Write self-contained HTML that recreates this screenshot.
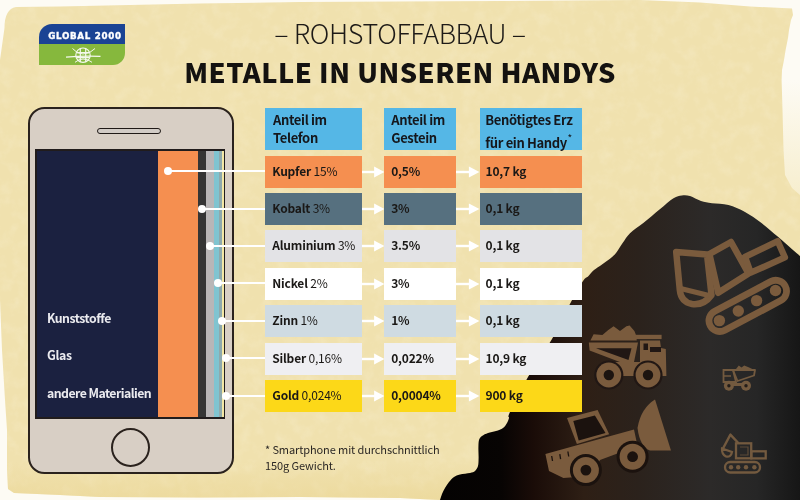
<!DOCTYPE html>
<html><head><meta charset="utf-8">
<style>
*{margin:0;padding:0;box-sizing:border-box}
html,body{width:800px;height:500px;overflow:hidden;background:#fdfbf4}
body{position:relative;font-family:"Noto Sans CJK JP","Liberation Sans",sans-serif;color:#1d1a17}
.abs{position:absolute}
#bg{position:absolute;left:0;top:0}
.t1{position:absolute;left:0;width:800px;text-align:center;white-space:nowrap}
.cell{position:absolute;height:32px;font-size:12px;line-height:29px;padding-left:8px;white-space:nowrap;letter-spacing:-0.2px;color:#1a1816}
.cell b{font-weight:bold}
.hd{position:absolute;top:107.7px;height:42.8px;background:#55b7e6;font-weight:bold;font-size:13px;line-height:17.7px;padding:3.4px 0 0 8px;letter-spacing:-0.35px;color:#15171c;white-space:nowrap}
.ln{position:absolute;height:2px;background:#fff}
.dot{position:absolute;width:8px;height:8px;border-radius:50%;background:#fff}
.ar{position:absolute}
.lbl{position:absolute;left:47px;color:#ebebef;font-weight:bold;font-size:12.3px;letter-spacing:-0.3px;white-space:nowrap;line-height:16px}
</style></head><body>
<svg id="bg" width="800" height="500" viewBox="0 0 800 500">
<defs>
<linearGradient id="mg" x1="440" y1="0" x2="800" y2="0" gradientUnits="userSpaceOnUse">
<stop offset="0" stop-color="#040202"/>
<stop offset="0.17" stop-color="#070403"/>
<stop offset="0.26" stop-color="#1a0c08"/>
<stop offset="0.4" stop-color="#2e1f15"/>
<stop offset="0.55" stop-color="#2b221c"/>
<stop offset="0.75" stop-color="#2c2a29"/>
<stop offset="0.88" stop-color="#262626"/>
<stop offset="1" stop-color="#161616"/>
</linearGradient>
<linearGradient id="rg" x1="0" y1="80" x2="0" y2="215" gradientUnits="userSpaceOnUse">
<stop offset="0" stop-color="#fdfbf4"/>
<stop offset="1" stop-color="#f6ecc8"/>
</linearGradient>
<linearGradient id="bgb" x1="0" y1="462" x2="0" y2="498" gradientUnits="userSpaceOnUse">
<stop offset="0" stop-color="#ead592" stop-opacity="0"/>
<stop offset="1" stop-color="#ead592" stop-opacity="0.55"/>
</linearGradient>
<filter id="blur6" x="-1" y="-1" width="3" height="3"><feGaussianBlur stdDeviation="6"/></filter>
<filter id="tex" x="0" y="0" width="100%" height="100%">
<feTurbulence type="fractalNoise" baseFrequency="0.08" numOctaves="3" seed="3" result="n"/>
<feColorMatrix in="n" type="matrix" values="0 0 0 0 1  0 0 0 0 0.97  0 0 0 0 0.85  0 0 0 -2.2 1.25" result="m"/>
<feComposite in="m" in2="SourceGraphic" operator="in"/>
</filter>
</defs>
<rect x="760" y="0" width="40" height="260" fill="url(#rg)"/>
<path d="M4.5,28 Q4.5,9 16,7 L60,6.5 L130,5 L200,3.5 L300,2 L500,1 L640,0 L700,2.5 L750,6.5 L792,8.6 L793,15 L791,20 L789,30 L788,38 L785.6,50 L784,60 L782,70 L781.6,80 L782.5,110 L783.5,150 L785,175 L792,188 L800,195 L800,500 L440,500 L400,498 L300,497 L200,497.5 L100,497 L60,495 L14,493 L8,489 L7,470 L7,430 L5,400 L2,350 L0,300 L0,60 Z" fill="#f0e1ae"/>
<path d="M4.5,28 Q4.5,9 16,7 L60,6.5 L130,5 L200,3.5 L300,2 L500,1 L640,0 L700,2.5 L750,6.5 L792,8.6 L793,15 L791,20 L789,30 L788,38 L785.6,50 L784,60 L782,70 L781.6,80 L782.5,110 L783.5,150 L785,175 L792,188 L800,195 L800,500 L440,500 L400,498 L300,497 L200,497.5 L100,497 L60,495 L14,493 L8,489 L7,470 L7,430 L5,400 L2,350 L0,300 L0,60 Z" fill="#fff" filter="url(#tex)" opacity="0.17"/>
<clipPath id="pc"><path d="M4.5,28 Q4.5,9 16,7 L60,6.5 L130,5 L200,3.5 L300,2 L500,1 L640,0 L700,2.5 L750,6.5 L792,8.6 L793,15 L791,20 L789,30 L788,38 L785.6,50 L784,60 L782,70 L781.6,80 L782.5,110 L783.5,150 L785,175 L792,188 L800,195 L800,500 L440,500 L400,498 L300,497 L200,497.5 L100,497 L60,495 L14,493 L8,489 L7,470 L7,430 L5,400 L2,350 L0,300 L0,60 Z"/></clipPath>
<g clip-path="url(#pc)"><rect x="0" y="462" width="800" height="38" fill="url(#bgb)"/></g>
<path d="M440,500 C440.3,499.0 441.2,496.0 442,494 C442.8,492.0 443.8,490.0 445,488 C446.2,486.0 447.5,483.8 449,482 C450.5,480.2 452.2,478.3 454,477 C455.8,475.7 457.3,475.1 460,474.4 C462.7,473.7 467.5,473.6 470,473 C472.5,472.4 473.7,472.2 475,471 C476.3,469.8 477.4,468.2 478,466 C478.6,463.8 478.5,461.0 478.6,458 C478.7,455.0 478.3,451.0 478.4,448 C478.5,445.0 478.4,442.0 479,440 C479.6,438.0 480.5,437.2 482,436 C483.5,434.8 485.7,433.8 488,433 C490.3,432.2 493.5,431.8 496,431 C498.5,430.2 501.2,429.3 503,428 C504.8,426.7 506.0,424.7 507,423 C508.0,421.3 508.5,419.8 509,418 C509.5,416.2 506.8,418.8 510,412 C513.2,405.2 521.0,389.2 528,377 C535.0,364.8 544.8,351.5 552,339 C559.2,326.5 565.8,311.7 571,302 C576.2,292.3 580.2,285.3 583,281 C585.8,276.7 586.2,278.2 588,276.4 C589.8,274.6 591.7,272.0 594,270 C596.3,268.0 599.3,266.3 602,264.4 C604.7,262.5 607.6,260.8 610,258.8 C612.4,256.8 614.3,255.1 616.4,252.4 C618.5,249.7 620.5,246.0 622.8,242.8 C625.1,239.6 626.6,236.5 630,233.2 C633.4,229.9 638.3,227.0 643.3,223 C648.3,219.0 654.8,213.4 659.8,209.3 C664.8,205.2 669.8,200.6 673.5,198.3 C677.2,196.0 679.0,195.9 681.8,195.5 C684.5,195.1 686.8,195.1 690,196 C693.2,196.9 697.3,199.8 701,201 C704.7,202.2 707.4,202.5 712,203.2 C716.6,203.9 723.0,203.5 728.5,205 C734.0,206.5 739.5,209.0 745,212 C750.5,215.0 756.0,218.9 761.5,223 C767.0,227.1 773.0,232.5 778,236.8 C783.0,241.1 788.1,245.8 791.8,249 C795.5,252.2 798.6,254.8 800,256 L800,500 Z" fill="url(#mg)"/>
<g transform="rotate(-27.9 747.45 305.35)" fill="none" stroke="#7a5b3d" stroke-width="6.8"><rect x="705.0" y="295.15000000000003" width="84.9" height="21.6" rx="10.8"/></g>
<circle cx="719.4" cy="320.6" r="5.7" fill="#7a5b3d"/>
<circle cx="738.3" cy="311" r="5.7" fill="#7a5b3d"/>
<circle cx="756.6" cy="300.6" r="5.7" fill="#7a5b3d"/>
<circle cx="775.5" cy="290.5" r="5.7" fill="#7a5b3d"/>
<path d="M676.2,252 L707,254.5 L711.5,295 Q704,305.5 692,304 Q681,302 679.8,290 Z" fill="none" stroke="#7a5b3d" stroke-width="6.5" stroke-linejoin="round"/>
<path d="M680.5,288.5 L709,295.5" stroke="#7a5b3d" stroke-width="5"/>
<path d="M709.4,254.0 L731.0,242.0 L748.6,273.6 L718.2,292.8 Z" fill="none" stroke="#7a5b3d" stroke-width="6.5" stroke-linejoin="round"/>
<path d="M745.0,256.8 L777.7,241.2 L784.9,257.4 L750.7,272.7 Z" fill="none" stroke="#7a5b3d" stroke-width="6.4" stroke-linejoin="round"/>
<path d="M590.4,340.6 L593.6,334.2 L602.4,335 L608,330.2 L613.6,326.2 L620,331 L626.4,326.2 L629.6,325.4 L634.4,331 L636,335 L636.8,340.6 Z" fill="#7a5b3d"/>
<path d="M588.8,342.4 L638,342.4 L633,367 L589.6,350.5 Z" fill="#7a5b3d"/>
<path d="M596,348.3 L631.5,348.3 L628.5,360 Z" fill="#211714"/>
<rect x="636" y="334.8" width="25.6" height="4.3" fill="#7a5b3d"/>
<path d="M640,340.6 L660,340.6 L661,348 L665.8,349 L666.4,376 L640,376 Z" fill="#7a5b3d"/>
<rect x="643.5" y="343.5" width="4.5" height="6.5" fill="#211714"/>
<rect x="650" y="347" width="11" height="5" fill="#211714"/>
<rect x="612" y="362" width="30" height="14" fill="#7a5b3d"/>
<circle cx="608.8" cy="375" r="14.6" fill="#211714"/>
<circle cx="608.8" cy="375" r="12.4" fill="#7a5b3d"/>
<circle cx="608.8" cy="375" r="5.2" fill="#1c1410"/>
<circle cx="648" cy="375" r="14.6" fill="#211714"/>
<circle cx="648" cy="375" r="12.4" fill="#7a5b3d"/>
<circle cx="648" cy="375" r="5.2" fill="#1c1410"/>
<path d="M545.4,454 L576,445.5 L634,429.5 L637.5,446 L600,460 L590,476 L563.4,478 L549,471 Z" fill="#7a5b3d"/>
<path d="M567,418 L597.6,409.9 L609.2,434.2 L576.9,444 Z" fill="#7a5b3d"/>
<path d="M573.3,421 L594.9,415.5 L605.5,433 L578.7,440.5 Z" fill="#1b120e"/>
<path d="M655,399.5 L671,450.5 L650,450.5 Q640,447 637.5,428 Q641,408 655,399.5 Z" fill="#7a5b3d"/>
<circle cx="585.9" cy="470.1" r="16" fill="#1b120e"/>
<circle cx="585.9" cy="470.1" r="13" fill="#7a5b3d"/>
<circle cx="585.9" cy="470.1" r="5.4" fill="#1b120e"/>
<circle cx="632.6" cy="456.7" r="16" fill="#1b120e"/>
<circle cx="632.6" cy="456.7" r="13" fill="#7a5b3d"/>
<circle cx="632.6" cy="456.7" r="5.4" fill="#1b120e"/>
<path d="M551.7,456.0 L552.5,461.0" stroke="#1b120e" stroke-width="1.3"/>
<path d="M559.8,454.2 L560.5999999999999,459.2" stroke="#1b120e" stroke-width="1.3"/>
<path d="M567.9,451.5 L568.6999999999999,456.5" stroke="#1b120e" stroke-width="1.3"/>
<path d="M736,369 L738.8,365.4 L741.5,367.5 L744.2,365.4 L748,367 L752.3,369 Z" fill="#735a3f"/>
<path d="M733,370 L755,370 L754,375.5 L737.5,381 Z" fill="none" stroke="#735a3f" stroke-width="1.8" stroke-linejoin="round"/>
<path d="M723.5,370 L733,370 L736,382 L723.5,382 Z" fill="none" stroke="#735a3f" stroke-width="1.8"/>
<path d="M724,376 L731,376" stroke="#735a3f" stroke-width="1.5"/>
<circle cx="728.9" cy="385.8" r="5" fill="#735a3f"/><circle cx="728.9" cy="385.8" r="1.7" fill="#231d19"/>
<circle cx="746" cy="385.8" r="5" fill="#735a3f"/><circle cx="746" cy="385.8" r="1.7" fill="#231d19"/>
<rect x="733" y="383" width="9" height="3" fill="#735a3f"/>
<rect x="725" y="462" width="35" height="10.5" rx="5.25" fill="none" stroke="#735a3f" stroke-width="2.3"/>
<circle cx="731" cy="467.3" r="2.2" fill="#735a3f"/>
<circle cx="738.2" cy="467.3" r="2.2" fill="#735a3f"/>
<circle cx="746" cy="467.3" r="2.2" fill="#735a3f"/>
<circle cx="754.4" cy="467.3" r="2.2" fill="#735a3f"/>
<rect x="736" y="443.3" width="15.2" height="15" fill="none" stroke="#735a3f" stroke-width="2.3"/>
<path d="M740,447 L748,447 L748,455 L740,455" fill="none" stroke="#735a3f" stroke-width="1.2" opacity="0.7"/>
<rect x="751.4" y="451.3" width="14.3" height="7.1" fill="none" stroke="#735a3f" stroke-width="2.3"/>
<path d="M738.5,443.3 L730.4,434.6 L723,448.5" fill="none" stroke="#735a3f" stroke-width="2.4" stroke-linejoin="round"/>
<path d="M722,448.5 L732,452 Q731,457.5 726,456.5 Q721.5,454 722,448.5 Z" fill="none" stroke="#735a3f" stroke-width="2.2"/>
</svg>

<div class="abs" style="left:38.9px;top:24.3px;width:86.6px;height:40.7px;overflow:hidden;border-radius:13px 0 12px 0">
<div class="abs" style="left:0;top:0;width:100%;height:20.2px;background:#1a4394"></div>
<div class="abs" style="left:0;top:20.2px;width:100%;height:20.5px;background:#86b83d"></div>
<div class="abs" style="left:9.3px;top:7px;color:#fff;font-family:'DejaVu Sans',sans-serif;font-weight:bold;font-size:8.7px;letter-spacing:0.7px;white-space:nowrap;line-height:10px;-webkit-text-stroke:0.35px #fff">GLOBAL 2000</div>
</div>
<svg class="abs" style="left:0;top:0" width="130" height="70"><g fill="none" stroke="#f4f8ec" stroke-width="1.2">
<circle cx="83" cy="55.2" r="7.2"/>
<path d="M80.3,48.4 L80.3,62 M85.7,48.4 L85.7,62 M76.3,52.6 L89.7,52.6 M76.3,57.7 L89.7,57.7"/>
<path d="M66,57.2 Q83,55.6 100.5,56.4" stroke-width="1.3"/>
<path d="M72.5,48.5 Q77,54 83,54 M95,48.5 Q90,54 83,54" stroke-width="1"/>
<path d="M75,62.3 Q79,59 83,59 M92,62.3 Q88,59 83,59" stroke-width="1"/>
</g></svg>

<div class="t1" style="top:13px;font-size:27px;font-weight:300;color:#1d1a17;letter-spacing:-0.4px">– ROHSTOFFABBAU –</div>
<div class="t1" style="top:51px;font-size:27.2px;font-weight:900;color:#141210;letter-spacing:0.5px">METALLE IN UNSEREN HANDYS</div>

<div class="abs" style="left:28px;top:107px;width:206px;height:367px;border:2px solid #2a221d;border-radius:16.5px;background:#d8cfc5"></div>
<div class="abs" style="left:97.4px;top:127.9px;width:63.6px;height:5.8px;border:1.9px solid #201a17;border-radius:3px;background:#d2ccc6"></div>
<div class="abs" style="left:35px;top:149px;width:189.6px;height:269.5px;background:#211c1c"></div>
<div class="abs" style="left:36.6px;top:150.6px;width:122.1px;height:266.3px;background:#1b2140"></div>
<div class="abs" style="left:158px;top:150.6px;width:41.0px;height:266.3px;background:#f58f50"></div>
<div class="abs" style="left:198.3px;top:150.6px;width:8.2px;height:266.3px;background:#353535"></div>
<div class="abs" style="left:205.8px;top:150.6px;width:9.1px;height:266.3px;background:#b9b6b7"></div>
<div class="abs" style="left:214.2px;top:150.6px;width:5.7px;height:266.3px;background:#80c4d0"></div>
<div class="abs" style="left:219.2px;top:150.6px;width:3.0px;height:266.3px;background:#8fa9ac"></div>
<div class="abs" style="left:221.5px;top:150.6px;width:2.1px;height:266.3px;background:#f3e8a6"></div>

<div class="abs" style="left:111px;top:428px;width:39.4px;height:39.4px;border:2px solid #2a221d;border-radius:50%"></div>

<div class="lbl" style="top:309.6px;letter-spacing:-0.5px">Kunststoffe</div>
<div class="lbl" style="top:346.9px">Glas</div>
<div class="lbl" style="top:384.8px;letter-spacing:-0.55px">andere Materialien</div>

<div class="hd" style="left:265px;width:96.6px">Anteil im<br>Telefon</div>
<div class="hd" style="left:384.2px;width:72.2px;padding-left:7px">Anteil im<br>Gestein</div>
<div class="hd" style="left:479.8px;width:102.2px;padding-left:5.5px">Benötigtes Erz<br>für ein Handy<span style="font-size:10px;font-weight:normal;vertical-align:6px;margin-left:0.5px">*</span></div>

<div class="ln" style="left:167.5px;top:170.10px;width:97.5px"></div>
<div class="dot" style="left:163.5px;top:167.10px"></div>
<div class="cell" style="left:265px;width:96.6px;top:155.60px;background:#f58f50;padding-left:7.3px"><b>Kupfer</b> 15%</div>
<div class="cell" style="left:384.2px;width:72.2px;top:155.60px;background:#f58f50;padding-left:7px"><b>0,5%</b></div>
<div class="cell" style="left:479.8px;width:102.2px;top:155.60px;background:#f58f50;padding-left:5.8px"><b>10,7 kg</b></div>
<svg class="ar" style="left:361.6px;top:165.60px" width="22.6" height="12"><rect x="0" y="4.8" width="13.6" height="2.4" fill="#fff"/><path d="M12.1,0.6 L22.6,6 L12.1,11.4 Z" fill="#fff"/></svg>
<svg class="ar" style="left:456.4px;top:165.60px" width="23.4" height="12"><rect x="0" y="4.8" width="14.4" height="2.4" fill="#fff"/><path d="M12.9,0.6 L23.4,6 L12.9,11.4 Z" fill="#fff"/></svg>
<div class="ln" style="left:201.7px;top:207.52px;width:63.3px"></div>
<div class="dot" style="left:197.7px;top:204.52px"></div>
<div class="cell" style="left:265px;width:96.6px;top:193.02px;background:#56707f;padding-left:7.3px"><b>Kobalt</b> 3%</div>
<div class="cell" style="left:384.2px;width:72.2px;top:193.02px;background:#56707f;padding-left:7px"><b>3%</b></div>
<div class="cell" style="left:479.8px;width:102.2px;top:193.02px;background:#56707f;padding-left:5.8px"><b>0,1 kg</b></div>
<svg class="ar" style="left:361.6px;top:203.02px" width="22.6" height="12"><rect x="0" y="4.8" width="13.6" height="2.4" fill="#fff"/><path d="M12.1,0.6 L22.6,6 L12.1,11.4 Z" fill="#fff"/></svg>
<svg class="ar" style="left:456.4px;top:203.02px" width="23.4" height="12"><rect x="0" y="4.8" width="14.4" height="2.4" fill="#fff"/><path d="M12.9,0.6 L23.4,6 L12.9,11.4 Z" fill="#fff"/></svg>
<div class="ln" style="left:209.8px;top:244.94px;width:55.2px"></div>
<div class="dot" style="left:205.8px;top:241.94px"></div>
<div class="cell" style="left:265px;width:96.6px;top:230.44px;background:#e3e3e6;padding-left:7.3px"><b>Aluminium</b> 3%</div>
<div class="cell" style="left:384.2px;width:72.2px;top:230.44px;background:#e3e3e6;padding-left:7px"><b>3.5%</b></div>
<div class="cell" style="left:479.8px;width:102.2px;top:230.44px;background:#e3e3e6;padding-left:5.8px"><b>0,1 kg</b></div>
<svg class="ar" style="left:361.6px;top:240.44px" width="22.6" height="12"><rect x="0" y="4.8" width="13.6" height="2.4" fill="#fff"/><path d="M12.1,0.6 L22.6,6 L12.1,11.4 Z" fill="#fff"/></svg>
<svg class="ar" style="left:456.4px;top:240.44px" width="23.4" height="12"><rect x="0" y="4.8" width="14.4" height="2.4" fill="#fff"/><path d="M12.9,0.6 L23.4,6 L12.9,11.4 Z" fill="#fff"/></svg>
<div class="ln" style="left:217.5px;top:282.36px;width:47.5px"></div>
<div class="dot" style="left:213.5px;top:279.36px"></div>
<div class="cell" style="left:265px;width:96.6px;top:267.86px;background:#ffffff;padding-left:7.3px"><b>Nickel</b> 2%</div>
<div class="cell" style="left:384.2px;width:72.2px;top:267.86px;background:#ffffff;padding-left:7px"><b>3%</b></div>
<div class="cell" style="left:479.8px;width:102.2px;top:267.86px;background:#ffffff;padding-left:5.8px"><b>0,1 kg</b></div>
<svg class="ar" style="left:361.6px;top:277.86px" width="22.6" height="12"><rect x="0" y="4.8" width="13.6" height="2.4" fill="#fff"/><path d="M12.1,0.6 L22.6,6 L12.1,11.4 Z" fill="#fff"/></svg>
<svg class="ar" style="left:456.4px;top:277.86px" width="23.4" height="12"><rect x="0" y="4.8" width="14.4" height="2.4" fill="#fff"/><path d="M12.9,0.6 L23.4,6 L12.9,11.4 Z" fill="#fff"/></svg>
<div class="ln" style="left:222px;top:319.78px;width:43.0px"></div>
<div class="dot" style="left:218.0px;top:316.78px"></div>
<div class="cell" style="left:265px;width:96.6px;top:305.28px;background:#cfdbe2;padding-left:7.3px"><b>Zinn</b> 1%</div>
<div class="cell" style="left:384.2px;width:72.2px;top:305.28px;background:#cfdbe2;padding-left:7px"><b>1%</b></div>
<div class="cell" style="left:479.8px;width:102.2px;top:305.28px;background:#cfdbe2;padding-left:5.8px"><b>0,1 kg</b></div>
<svg class="ar" style="left:361.6px;top:315.28px" width="22.6" height="12"><rect x="0" y="4.8" width="13.6" height="2.4" fill="#fff"/><path d="M12.1,0.6 L22.6,6 L12.1,11.4 Z" fill="#fff"/></svg>
<svg class="ar" style="left:456.4px;top:315.28px" width="23.4" height="12"><rect x="0" y="4.8" width="14.4" height="2.4" fill="#fff"/><path d="M12.9,0.6 L23.4,6 L12.9,11.4 Z" fill="#fff"/></svg>
<div class="ln" style="left:226px;top:357.20px;width:39.0px"></div>
<div class="dot" style="left:222.0px;top:354.20px"></div>
<div class="cell" style="left:265px;width:96.6px;top:342.70px;background:#efeff2;padding-left:7.3px"><b>Silber</b> 0,16%</div>
<div class="cell" style="left:384.2px;width:72.2px;top:342.70px;background:#efeff2;padding-left:7px"><b>0,022%</b></div>
<div class="cell" style="left:479.8px;width:102.2px;top:342.70px;background:#efeff2;padding-left:5.8px"><b>10,9 kg</b></div>
<svg class="ar" style="left:361.6px;top:352.70px" width="22.6" height="12"><rect x="0" y="4.8" width="13.6" height="2.4" fill="#fff"/><path d="M12.1,0.6 L22.6,6 L12.1,11.4 Z" fill="#fff"/></svg>
<svg class="ar" style="left:456.4px;top:352.70px" width="23.4" height="12"><rect x="0" y="4.8" width="14.4" height="2.4" fill="#fff"/><path d="M12.9,0.6 L23.4,6 L12.9,11.4 Z" fill="#fff"/></svg>
<div class="ln" style="left:226.4px;top:394.62px;width:38.6px"></div>
<div class="dot" style="left:222.4px;top:391.62px"></div>
<div class="cell" style="left:265px;width:96.6px;top:380.12px;background:#fcd818;padding-left:7.3px"><b>Gold</b> 0,024%</div>
<div class="cell" style="left:384.2px;width:72.2px;top:380.12px;background:#fcd818;padding-left:7px"><b>0,0004%</b></div>
<div class="cell" style="left:479.8px;width:102.2px;top:380.12px;background:#fcd818;padding-left:5.8px"><b>900 kg</b></div>
<svg class="ar" style="left:361.6px;top:390.12px" width="22.6" height="12"><rect x="0" y="4.8" width="13.6" height="2.4" fill="#fff"/><path d="M12.1,0.6 L22.6,6 L12.1,11.4 Z" fill="#fff"/></svg>
<svg class="ar" style="left:456.4px;top:390.12px" width="23.4" height="12"><rect x="0" y="4.8" width="14.4" height="2.4" fill="#fff"/><path d="M12.9,0.6 L23.4,6 L12.9,11.4 Z" fill="#fff"/></svg>

<div class="abs" style="left:265px;top:441px;font-size:11px;line-height:16.25px;color:#2b2724;letter-spacing:-0.1px;white-space:nowrap">* Smartphone mit durchschnittlich<br>150g Gewicht.</div>
</body></html>
